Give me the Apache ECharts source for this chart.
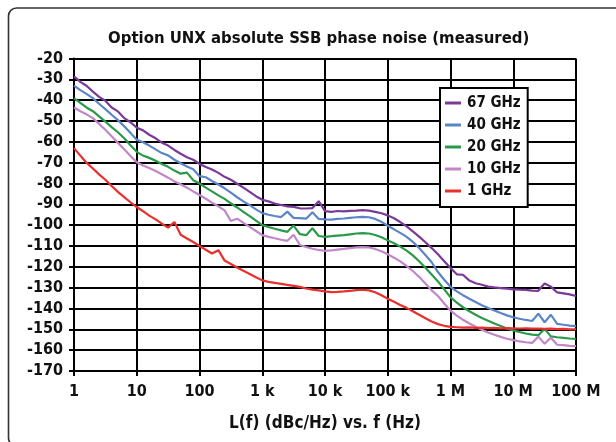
<!DOCTYPE html>
<html>
<head>
<meta charset="utf-8">
<script src="https://cdn.jsdelivr.net/npm/echarts@6/dist/echarts.min.js"></script>
<style>
  html, body { margin: 0; padding: 0; background: #fff; }
  #chart { width: 616px; height: 442px; }
</style>
</head>
<body>
<div id="chart"></div>
<script>
// offset frequencies (Hz), 10 points per decade
const freqs = [
  1, 1.26, 1.58, 2, 2.51, 3.16, 3.98, 5.01, 6.31, 7.94,
  10, 12.6, 15.8, 20, 25.1, 31.6, 39.8, 50.1, 63.1, 79.4,
  100, 126, 158, 200, 251, 316, 398, 501, 631, 794,
  1e3, 1.26e3, 1.58e3, 2e3, 2.51e3, 3.16e3, 3.98e3, 5.01e3, 6.31e3, 7.94e3,
  1e4, 1.26e4, 1.58e4, 2e4, 2.51e4, 3.16e4, 3.98e4, 5.01e4, 6.31e4, 7.94e4,
  1e5, 1.26e5, 1.58e5, 2e5, 2.51e5, 3.16e5, 3.98e5, 5.01e5, 6.31e5, 7.94e5,
  1e6, 1.26e6, 1.58e6, 2e6, 2.51e6, 3.16e6, 3.98e6, 5.01e6, 6.31e6, 7.94e6,
  1e7, 1.26e7, 1.58e7, 2e7, 2.51e7, 3.16e7, 3.98e7, 5.01e7, 6.31e7, 7.94e7,
  1e8
]

const ghz67 = [
  -28.6, -31.2, -33.1, -35.9, -38.4, -40.3, -43.5, -45.4, -48.6, -50.6,
  -53.2, -54.5, -56.6, -58.3, -60.4, -61.8, -63.9, -65.7, -67.4, -68.6,
  -70.6, -72.1, -73.3, -74.9, -76.8, -78.2, -80.1, -82.0, -84.0, -86.1,
  -87.8, -88.6, -89.6, -90.3, -91.0, -91.2, -91.9, -92.0, -91.8, -88.5,
  -93.3, -93.6, -93.2, -93.4, -93.1, -93.0, -92.8, -93.0, -93.6, -94.3,
  -95.3, -96.7, -98.5, -100.6, -103.0, -105.5, -108.2, -111.0, -114.0, -117.3,
  -120.6, -123.6, -123.8, -126.6, -127.9, -128.6, -129.5, -129.9, -130.2, -130.5,
  -130.8, -131.0, -131.1, -131.4, -131.5, -128.0, -129.5, -132.3, -132.7, -133.2,
  -134.0
]
const ghz40 = [
  -33.0, -35.2, -37.0, -39.0, -41.7, -44.3, -47.0, -49.6, -52.5, -55.7,
  -59.0, -60.2, -61.8, -63.6, -65.4, -66.5, -68.6, -70.3, -71.8, -73.2,
  -76.5, -77.0, -78.8, -80.5, -82.3, -84.4, -86.6, -88.6, -90.4, -92.4,
  -94.2, -95.0, -95.6, -96.1, -93.5, -96.5, -96.6, -96.9, -93.8, -97.0,
  -97.2, -97.3, -97.0, -96.8, -96.5, -96.2, -96.0, -96.2, -97.0, -98.4,
  -100.3, -102.0, -103.7, -105.6, -108.0, -111.0, -114.3, -117.8, -122.5, -126.2,
  -129.6, -131.8, -133.6, -135.3, -136.9, -138.4, -139.8, -141.0, -142.2, -143.3,
  -144.2, -144.9, -145.5, -146.0, -142.5, -146.6, -143.0, -147.4, -147.8, -148.2,
  -148.5
]
const ghz20 = [
  -39.0, -41.3, -43.5, -45.3, -47.8, -50.3, -52.9, -55.4, -58.3, -61.6,
  -64.8, -66.6, -67.7, -69.1, -70.6, -72.0, -73.8, -75.3, -74.8, -78.4,
  -80.0, -82.0, -83.8, -85.7, -87.4, -89.5, -91.5, -93.6, -95.7, -97.8,
  -100.0, -100.9, -101.7, -102.5, -103.2, -100.2, -104.3, -104.8, -101.5, -105.2,
  -105.6, -105.3, -105.0, -104.8, -104.4, -104.0, -103.8, -104.0, -104.7, -105.8,
  -107.3, -108.7, -110.3, -112.2, -114.5, -117.3, -120.4, -123.7, -127.0, -130.8,
  -134.6, -137.2, -139.4, -141.3, -143.0, -144.6, -145.9, -147.2, -148.4, -149.6,
  -150.5, -151.3, -152.0, -152.5, -152.8, -149.8, -153.4, -153.8, -154.1, -154.4,
  -154.6
]
const ghz10 = [
  -43.5, -45.3, -46.8, -48.6, -51.4, -54.2, -57.3, -60.5, -63.6, -66.8,
  -69.8, -71.4, -72.6, -74.0, -75.6, -77.2, -79.0, -80.4, -82.0, -83.8,
  -85.5, -87.3, -89.2, -91.0, -92.9, -98.0, -96.9, -98.9, -100.8, -102.8,
  -104.8, -105.6, -106.3, -107.0, -107.5, -104.6, -109.5, -110.5, -111.3, -111.9,
  -112.3, -112.1, -111.7, -111.4, -111.0, -110.7, -110.5, -110.7, -111.4, -112.5,
  -114.0, -115.6, -117.4, -119.6, -122.0, -124.8, -128.0, -131.3, -134.0, -137.6,
  -141.0, -143.4, -145.4, -147.2, -148.8, -150.2, -151.5, -152.6, -153.6, -154.5,
  -155.2, -155.8, -156.2, -156.5, -153.5, -156.9, -154.0, -157.4, -157.6, -157.9,
  -158.1
]
const ghz1 = [
  -63.0, -66.6, -70.0, -72.8, -75.6, -78.2, -81.2, -84.0, -86.5, -89.0,
  -91.3, -93.3, -95.4, -97.2, -99.3, -101.2, -98.5, -104.6, -106.4, -108.1,
  -110.0, -111.8, -113.6, -112.0, -117.0, -118.6, -120.3, -121.9, -123.4, -125.0,
  -126.5, -127.2, -127.7, -128.2, -128.7, -129.1, -129.6, -130.4, -130.9, -131.3,
  -131.8, -132.1, -132.0, -131.8, -131.5, -131.2, -131.0, -131.3, -132.2, -133.6,
  -135.3, -136.8, -138.3, -139.7, -141.3, -143.0, -144.7, -146.2, -147.5, -148.3,
  -148.8, -149.0, -149.2, -149.1, -149.3, -149.2, -149.4, -149.3, -149.5, -149.4,
  -149.5, -149.6, -149.5, -149.7, -149.6, -149.8, -149.7, -149.9, -149.8, -150.0,
  -150.0
]

const seriesNames = ['67 GHz', '40 GHz', '20 GHz', '10 GHz', '1 GHz']
const seriesColors = ['#7b3a98', '#5b85c6', '#2a9a4a', '#c187c8', '#e8302c']
const xTickLabels = ['1', '10', '100', '1 k', '10 k', '100 k', '1 M', '10 M', '100 M']

const font = "'DejaVu Sans Condensed', 'Liberation Sans Narrow', sans-serif"

function pairs(values) {
  return freqs.map((f, i) => [f, values[i]])
}

const chart = echarts.init(document.getElementById('chart'))
const allValues = [ghz67, ghz40, ghz20, ghz10, ghz1]

chart.setOption({
  animation: false,
  backgroundColor: '#fff',
  title: {
    text: 'Option UNX absolute SSB phase noise (measured)',
    left: 108,
    top: 30,
    padding: 0,
    textStyle: { fontFamily: font, fontWeight: 'bold', fontSize: 16.6, color: '#111' }
  },
  graphic: [{
    type: 'rect',
    z: -1,
    shape: { x: 8.5, y: 8, width: 640, height: 438, r: 8 },
    style: { fill: 'none', stroke: '#333', lineWidth: 1.6 }
  }],
  legend: {
    data: seriesNames,
    orient: 'vertical',
    left: 440,
    top: 88,
    padding: [7, 7, 8, 5],
    itemGap: 6,
    itemWidth: 16,
    itemHeight: 3,
    icon: 'rect',
    backgroundColor: '#fff',
    borderColor: '#000',
    borderWidth: 2,
    borderRadius: 0,
    textStyle: { fontFamily: font, fontWeight: 'bold', fontSize: 15, color: '#111', lineHeight: 16, padding: [0, 0, 0, 1] }
  },
  grid: {
    left: 74,
    right: 40,
    top: 58.5,
    bottom: 71,
    containLabel: false
  },
  xAxis: {
    type: 'log',
    logBase: 10,
    min: 1,
    max: 1e8,
    splitNumber: 8,
    name: 'L(f) (dBc/Hz) vs. f (Hz)',
    nameLocation: 'middle',
    nameGap: 44,
    nameTextStyle: { fontFamily: font, fontWeight: 'bold', fontSize: 17, color: '#111' },
    axisLine: { lineStyle: { color: '#000', width: 2 } },
    axisTick: { show: true, inside: false, length: 5, lineStyle: { color: '#000', width: 2 } },
    axisLabel: {
      margin: 13,
      fontFamily: font,
      fontWeight: 'bold',
      fontSize: 16,
      color: '#111',
      formatter: v => xTickLabels[Math.round(Math.log10(v))]
    },
    splitLine: { show: true, lineStyle: { color: '#000', width: 2 } },
    minorTick: { show: false },
    minorSplitLine: { show: false }
  },
  yAxis: {
    type: 'value',
    min: -170,
    max: -20,
    interval: 10,
    axisLine: { show: true, lineStyle: { color: '#000', width: 2 } },
    axisTick: { show: true, inside: false, length: 5, lineStyle: { color: '#000', width: 2 } },
    axisLabel: { margin: 11, fontFamily: font, fontWeight: 'bold', fontSize: 16, color: '#111' },
    splitLine: { show: true, lineStyle: { color: '#000', width: 2 } }
  },
  series: seriesNames.map((name, i) => ({
    name: name,
    type: 'line',
    showSymbol: false,
    symbol: 'none',
    z: 3,
    color: seriesColors[i],
    lineStyle: { color: seriesColors[i], width: 2.2 },
    data: pairs(allValues[i])
  }))
})
</script>
</body>
</html>
